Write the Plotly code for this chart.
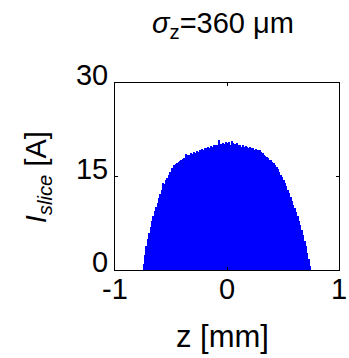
import plotly.graph_objects as go

bin_width = 0.0125
z_centers = [round(-0.74375 + k * bin_width, 5) for k in range(120)]
i_slice = [1.0, 2.4, 3.8, 4.9, 5.9, 6.9, 7.8, 8.7, 9.4, 10.1,
           10.8, 11.5, 12.2, 12.9, 13.9, 13.8, 14.4, 14.8, 15.3, 15.7,
           16.3, 16.4, 16.8, 17.0, 17.2, 17.4, 17.5, 17.6, 17.8, 17.9,
           18.6, 18.3, 18.5, 18.4, 18.7, 18.6, 18.9, 18.8, 19.1, 19.0,
           19.3, 19.1, 19.4, 19.2, 19.6, 19.5, 19.7, 19.5, 19.9, 19.8,
           20.0, 19.8, 20.1, 20.0, 20.8, 20.2, 20.0, 20.4, 20.2, 20.6,
           20.3, 20.5, 20.1, 20.7, 20.4, 20.2, 19.9, 20.3, 20.0, 20.1,
           19.8, 20.0, 19.7, 19.9, 19.8, 19.6, 19.7, 19.5, 19.6, 19.3,
           19.4, 19.1, 19.2, 19.3, 18.9, 18.7, 18.4, 18.3, 18.1, 17.9,
           17.7, 17.6, 17.4, 17.2, 16.9, 16.6, 16.2, 15.8, 15.3, 14.9,
           14.4, 13.9, 13.4, 12.9, 12.3, 11.7, 11.1, 10.5, 9.9, 9.3,
           8.6, 7.9, 7.2, 6.4, 5.6, 4.7, 3.8, 2.8, 1.8, 0.7]
x_ticks = [-1, 0, 1]
x_tick_labels = ["-1", "0", "1"]
y_ticks = [0, 15, 30]

fig = go.Figure(go.Bar(x=z_centers, y=i_slice, marker=dict(color="#0000FF", line=dict(width=0)),
                       width=bin_width))

font = "Liberation Sans, Arial, sans-serif"
fs = 29
fig.update_layout(
    width=349, height=358,
    margin=dict(l=115, r=10, t=83, b=88),
    paper_bgcolor="white", plot_bgcolor="white",
    bargap=0, showlegend=False,
    font=dict(family=font, size=fs, color="black"),
)
fig.update_xaxes(range=[-1, 1], tickvals=x_ticks, ticktext=x_tick_labels, ticks="inside", ticklen=3,
                 tickcolor="black", automargin=False,
                 showline=True, linecolor="black", linewidth=1, mirror="ticks", showgrid=False, zeroline=False,
                 tickfont=dict(size=fs), ticklabelstandoff=-7)
fig.update_yaxes(range=[0, 30], tickvals=y_ticks, ticks="inside", ticklen=3, tickcolor="black",
                 automargin=False,
                 showline=True, linecolor="black", linewidth=1, mirror="ticks", showgrid=False, zeroline=False,
                 tickfont=dict(size=fs), ticklabelshift=-8, ticklabelstandoff=0)

fig.add_annotation(text="<i>σ</i><sub>z</sub>=360 μm", xref="paper", yref="paper", x=0.482, y=1.31,
                   xanchor="center", yanchor="middle", showarrow=False, font=dict(size=29))
fig.add_annotation(text="z [mm]", xref="paper", yref="paper", x=0.482, y=-0.358,
                   xanchor="center", yanchor="middle", showarrow=False, font=dict(size=31))
fig.add_annotation(text="<i>I</i><sub><i>slice</i></sub> [A]", xref="paper", yref="paper", x=-0.34, y=0.495,
                   xanchor="center", yanchor="middle", textangle=-90, showarrow=False, font=dict(size=29))

fig.write_html("out.html", config={"displayModeBar": False},
               post_script="document.body.style.margin='0px';")
